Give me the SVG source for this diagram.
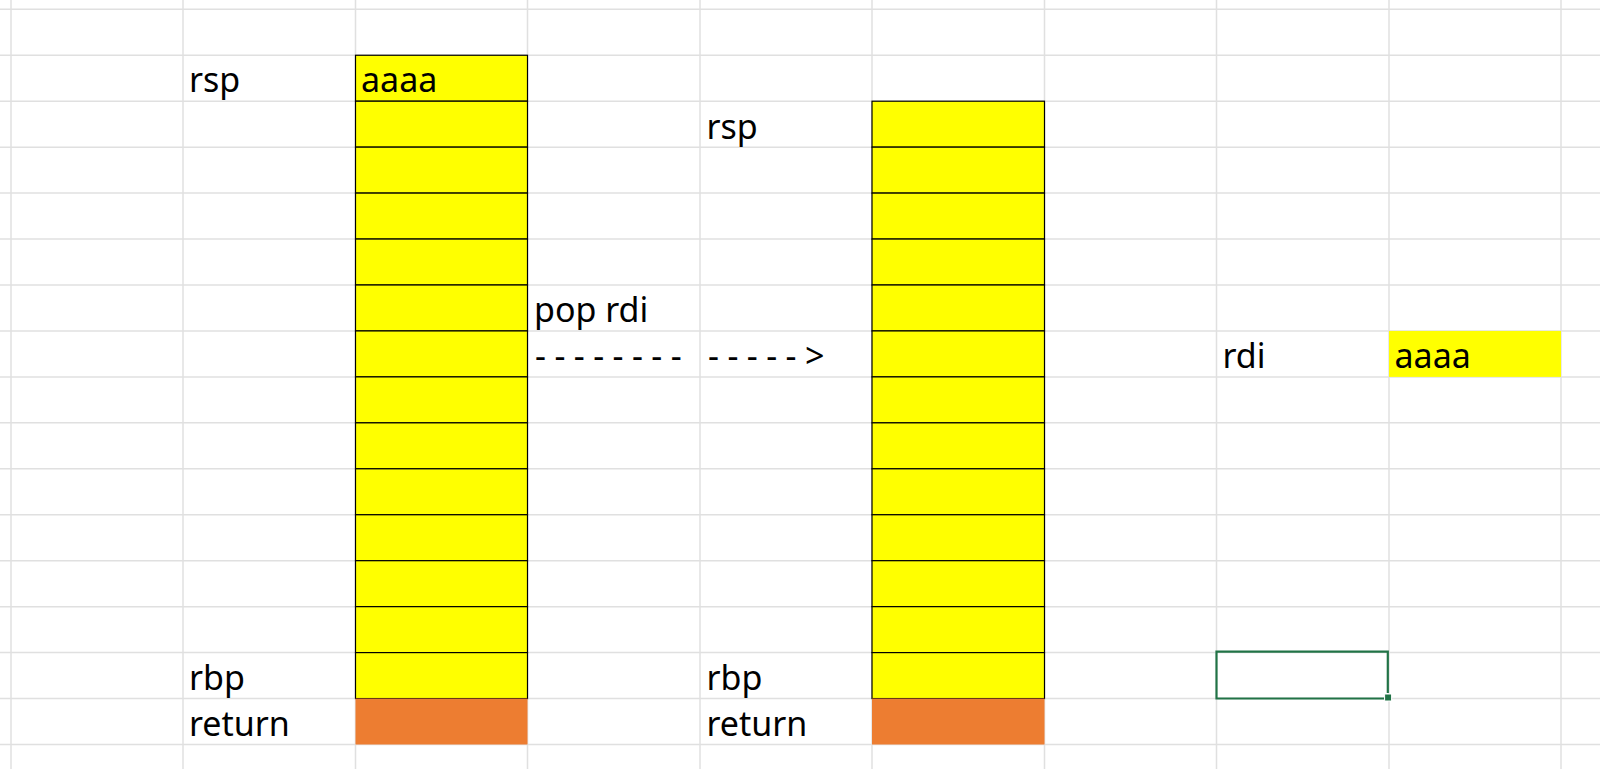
<svg xmlns="http://www.w3.org/2000/svg" width="1600" height="769" viewBox="0 0 1600 769">
<style>
.grid line{stroke:#e0e0e0;stroke-width:1.5}
.y{fill:#ffff00;stroke:#000;stroke-width:1.2}
.o{fill:#ed7d31}
text{font-family:"Noto Sans","Liberation Sans",sans-serif;font-size:34px;fill:#000}
.dash{letter-spacing:-0.2px}
</style>
<rect width="1600" height="769" fill="#fff"/>
<g class="grid">
<line x1="11" y1="0" x2="11" y2="769"/><line x1="183" y1="0" x2="183" y2="769"/><line x1="355.5" y1="0" x2="355.5" y2="769"/><line x1="527.5" y1="0" x2="527.5" y2="769"/><line x1="700" y1="0" x2="700" y2="769"/><line x1="872" y1="0" x2="872" y2="769"/><line x1="1044.5" y1="0" x2="1044.5" y2="769"/><line x1="1216.5" y1="0" x2="1216.5" y2="769"/><line x1="1389" y1="0" x2="1389" y2="769"/><line x1="1561" y1="0" x2="1561" y2="769"/>
<line x1="0" y1="9.3" x2="1600" y2="9.3"/><line x1="0" y1="55.25" x2="1600" y2="55.25"/><line x1="0" y1="101.2" x2="1600" y2="101.2"/><line x1="0" y1="147.15" x2="1600" y2="147.15"/><line x1="0" y1="193.1" x2="1600" y2="193.1"/><line x1="0" y1="239.05" x2="1600" y2="239.05"/><line x1="0" y1="285" x2="1600" y2="285"/><line x1="0" y1="330.95" x2="1600" y2="330.95"/><line x1="0" y1="376.9" x2="1600" y2="376.9"/><line x1="0" y1="422.85" x2="1600" y2="422.85"/><line x1="0" y1="468.8" x2="1600" y2="468.8"/><line x1="0" y1="514.75" x2="1600" y2="514.75"/><line x1="0" y1="560.7" x2="1600" y2="560.7"/><line x1="0" y1="606.65" x2="1600" y2="606.65"/><line x1="0" y1="652.6" x2="1600" y2="652.6"/><line x1="0" y1="698.55" x2="1600" y2="698.55"/><line x1="0" y1="744.5" x2="1600" y2="744.5"/>
</g>
<g id="stack-left">
<rect class="y" x="355.5" y="55.25" width="172" height="45.95"/>
<rect class="y" x="355.5" y="101.2" width="172" height="45.95"/>
<rect class="y" x="355.5" y="147.15" width="172" height="45.95"/>
<rect class="y" x="355.5" y="193.1" width="172" height="45.95"/>
<rect class="y" x="355.5" y="239.05" width="172" height="45.95"/>
<rect class="y" x="355.5" y="285" width="172" height="45.95"/>
<rect class="y" x="355.5" y="330.95" width="172" height="45.95"/>
<rect class="y" x="355.5" y="376.9" width="172" height="45.95"/>
<rect class="y" x="355.5" y="422.85" width="172" height="45.95"/>
<rect class="y" x="355.5" y="468.8" width="172" height="45.95"/>
<rect class="y" x="355.5" y="514.75" width="172" height="45.95"/>
<rect class="y" x="355.5" y="560.7" width="172" height="45.95"/>
<rect class="y" x="355.5" y="606.65" width="172" height="45.95"/>
<rect class="y" x="355.5" y="652.6" width="172" height="45.95"/>
<rect class="o" x="355.5" y="698.55" width="172" height="45.95"/>
<text x="361" y="92">aaaa</text>
</g>
<g id="labels-left">
<text x="189" y="92">rsp</text>
<text x="189" y="690">rbp</text>
<text x="189" y="735.5">return</text>
</g>
<g id="stack-right">
<rect class="y" x="872" y="101.2" width="172.5" height="45.95"/>
<rect class="y" x="872" y="147.15" width="172.5" height="45.95"/>
<rect class="y" x="872" y="193.1" width="172.5" height="45.95"/>
<rect class="y" x="872" y="239.05" width="172.5" height="45.95"/>
<rect class="y" x="872" y="285" width="172.5" height="45.95"/>
<rect class="y" x="872" y="330.95" width="172.5" height="45.95"/>
<rect class="y" x="872" y="376.9" width="172.5" height="45.95"/>
<rect class="y" x="872" y="422.85" width="172.5" height="45.95"/>
<rect class="y" x="872" y="468.8" width="172.5" height="45.95"/>
<rect class="y" x="872" y="514.75" width="172.5" height="45.95"/>
<rect class="y" x="872" y="560.7" width="172.5" height="45.95"/>
<rect class="y" x="872" y="606.65" width="172.5" height="45.95"/>
<rect class="y" x="872" y="652.6" width="172.5" height="45.95"/>
<rect class="o" x="872" y="698.55" width="172.5" height="45.95"/>
</g>
<g id="labels-right">
<text x="706.5" y="139">rsp</text>
<text x="706.5" y="690">rbp</text>
<text x="706.5" y="735.5">return</text>
</g>
<g id="op">
<text x="534" y="322">pop rdi</text>
</g>
<g id="connectors">
<text class="dash" x="535" y="368">- - - - - - - -</text>
<text class="dash" x="708" y="368">- - - - - &gt;</text>
</g>
<g id="register">
<text x="1222.5" y="368">rdi</text>
<rect x="1389" y="330.95" width="172" height="45.95" fill="#ffff00"/>
<text x="1394.5" y="368">aaaa</text>
</g>
<g id="selection">
<path d="M1387.8 693 V651.6 H1216.5 V698.5 H1384" fill="none" stroke="#217346" stroke-width="2.2"/>
<rect x="1384.6" y="694" width="7" height="7" fill="#217346" stroke="#fff" stroke-width="1"/>
</g>
</svg>
